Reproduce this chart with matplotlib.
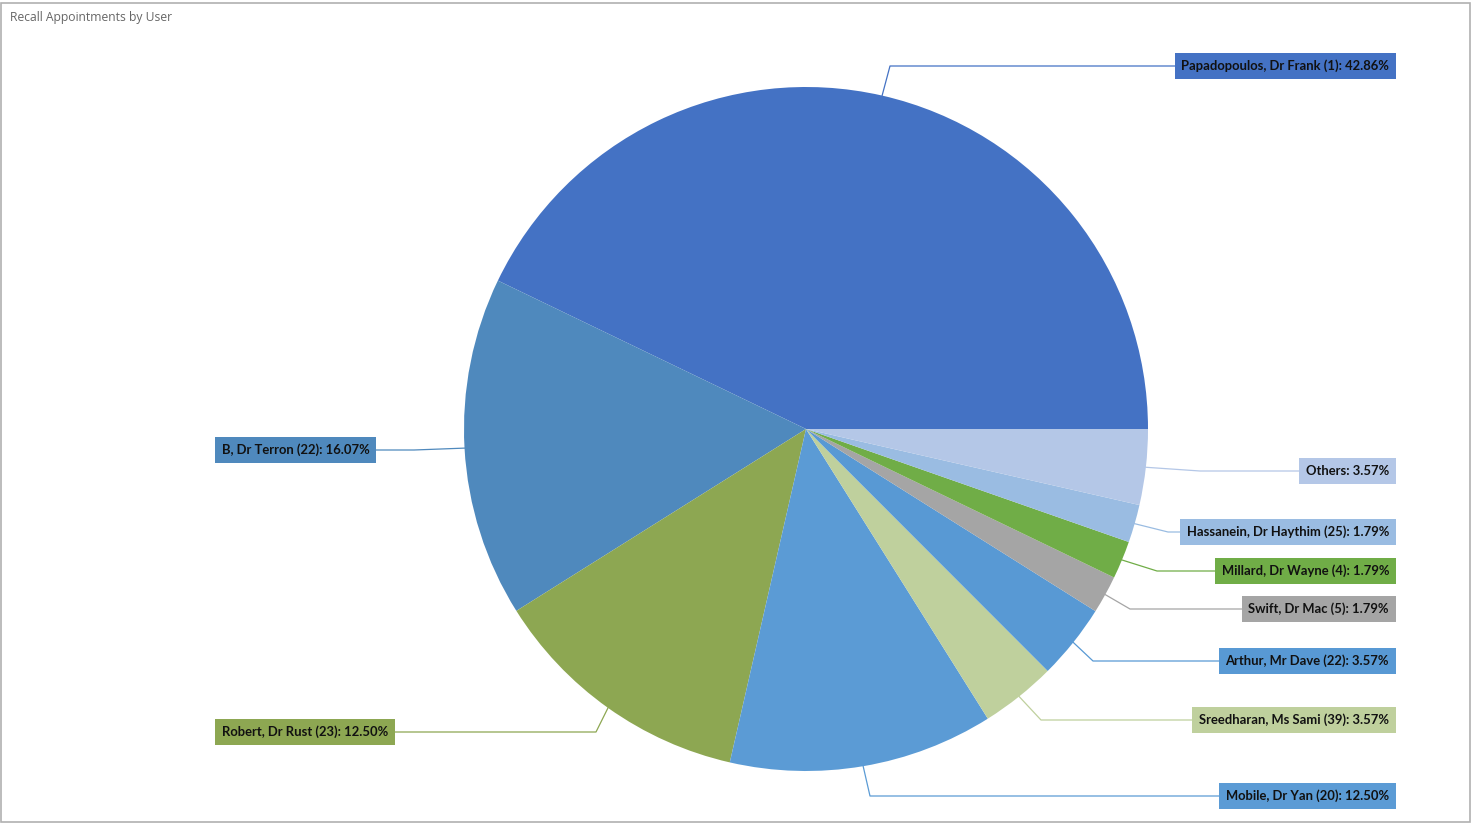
import numpy as np
import matplotlib
matplotlib.use('Agg')
import matplotlib.pyplot as plt
from matplotlib.patches import Rectangle

# Recall appointments by user (shares in percent)
users = ['Papadopoulos, Dr Frank (1)', 'B, Dr Terron (22)', 'Robert, Dr Rust (23)',
         'Mobile, Dr Yan (20)', 'Sreedharan, Ms Sami (39)', 'Arthur, Mr Dave (22)',
         'Swift, Dr Mac (5)', 'Millard, Dr Wayne (4)', 'Hassanein, Dr Haythim (25)',
         'Others']
shares = [42.86, 16.07, 12.50, 12.50, 3.57, 3.57, 1.79, 1.79, 1.79, 3.57]
colors = ['#4472C4', '#4F89BD', '#8DA752', '#5B9BD5', '#BFD09D', '#5899D4',
          '#A5A5A5', '#70AD47', '#9ABCE2', '#B4C7E7']

# label layout (pixels from top-left of the image)
label_y = [66, 450, 732, 796, 720, 661, 609, 571, 532, 471]
elbow_x = [890, 414, 596, 870, 1041, 1093, 1130, 1157, 1168, 1200]
side = ['R', 'L', 'L', 'R', 'R', 'R', 'R', 'R', 'R', 'R']

W, H = 1473, 824
cx, cy, rad = 806, 429, 342

plt.rcParams['font.family'] = ['Lato', 'DejaVu Sans']

fig = plt.figure(figsize=(W / 100, H / 100), dpi=100)
ax = fig.add_axes([0, 0, 1, 1])

wedges, _ = ax.pie(shares, colors=colors, startangle=0, counterclock=True,
                   center=(cx, H - cy), radius=rad, frame=True,
                   wedgeprops=dict(linewidth=0))
ax.set_xlim(0, W)
ax.set_ylim(0, H)
ax.set_aspect('equal')
ax.axis('off')

for w, name, pct, col, ly, ex, s in zip(wedges, users, shares, colors,
                                        label_y, elbow_x, side):
    mid = np.deg2rad((w.theta1 + w.theta2) / 2)
    px = cx + rad * np.cos(mid)
    py = H - cy + rad * np.sin(mid)
    end_x = 1390 if s == 'R' else 220
    ax.plot([px, ex, end_x], [py, H - ly, H - ly], color=col, lw=0.9, zorder=1)
    ha = 'right' if s == 'R' else 'left'
    tx = 1389 if s == 'R' else 222
    ax.text(tx, H - ly, f'{name}: {pct:.2f}%', ha=ha, va='center',
            fontsize=9.4, fontweight='bold', color='#111111', zorder=5,
            bbox=dict(boxstyle='square,pad=0.5', facecolor=col,
                      edgecolor='none'))

# title and panel border
ax.text(10, H - 17, 'Recall Appointments by User', ha='left', va='center',
        fontsize=8.7, color='#666666', family=['Open Sans', 'DejaVu Sans'])
ax.add_patch(Rectangle((1, 2), 1469, 819, fill=False, edgecolor='#b0b0b0',
                       lw=1.2, zorder=10))

fig.savefig('out.png', dpi=100)
